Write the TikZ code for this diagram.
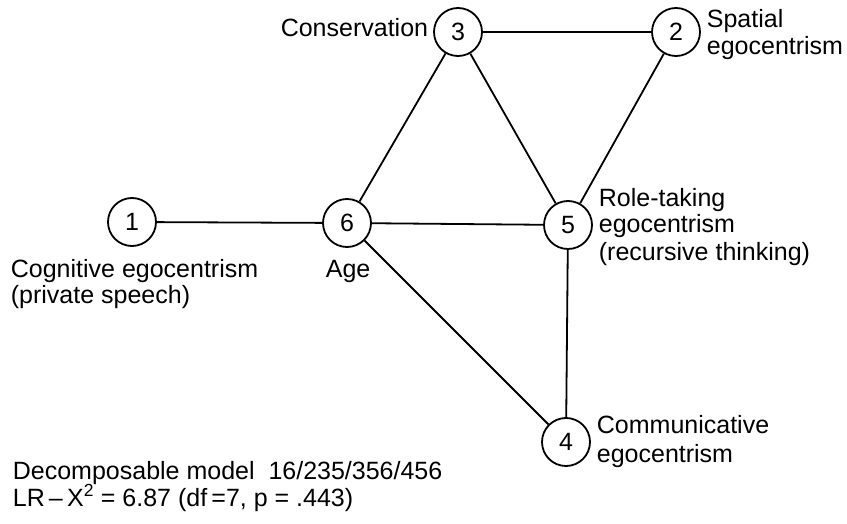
\documentclass[tikz,border=0pt]{standalone}
\usepackage{fontspec}
\setmainfont{Liberation Sans}
\begin{document}
\begin{tikzpicture}[x=1pt,y=-1pt,line width=1.8pt,
  num/.style={circle,draw,minimum size=48pt,inner sep=0pt,font=\fontsize{25}{30}\selectfont},
  lbl/.style={anchor=base west,inner sep=0pt,font=\fontsize{25}{30}\selectfont},
  lble/.style={anchor=base east,inner sep=0pt,font=\fontsize{25}{30}\selectfont},
  edge/.style={line width=1.8pt}]
\useasboundingbox (0,0) rectangle (847,524);
\node[num] (n1) at (132,222) {1};
\node[num] (n6) at (347,223) {6};
\node[num] (n5) at (568,225) {5};
\node[num] (n3) at (458,32) {3};
\node[num] (n2) at (676,32) {2};
\node[num] (n4) at (566,442) {4};
\draw[edge] (n1) -- (n6);
\draw[edge] (n6) -- (n5);
\draw[edge] (n6) -- (n3);
\draw[edge] (n3) -- (n2);
\draw[edge] (n3) -- (n5);
\draw[edge] (n2) -- (n5);
\draw[edge] (n6) -- (n4);
\draw[edge] (n5) -- (n4);
\node[lble] (tcons) at (429,37) {Conservation};
\node[lbl] (tsp1) at (706,28) {Spatial};
\node[lbl] (tsp2) at (706,55) {egocentrism};
\node[lbl] (trt1) at (598,207) {Role-taking};
\node[lbl] (trt2) at (598,233) {egocentrism};
\node[lbl] (trt3) at (598,260) {(recursive thinking)};
\node[lbl] (tcg1) at (10,277) {Cognitive egocentrism};
\node[lbl] (tcg2) at (10,303) {(private speech)};
\node[lbl] (tage) at (325,277) {Age};
\node[lbl] (tcm1) at (596,433) {Communicative};
\node[lbl] (tcm2) at (596,462) {egocentrism};
\node[lbl] (tdec) at (12,479) {Decomposable model\ \ 16/235/356/456};
\node[lbl] (tlr) at (12,506) {LR\,--\,X\textsuperscript{2} = 6.87 (df\,=7, p = .443)};
\end{tikzpicture}
\end{document}
